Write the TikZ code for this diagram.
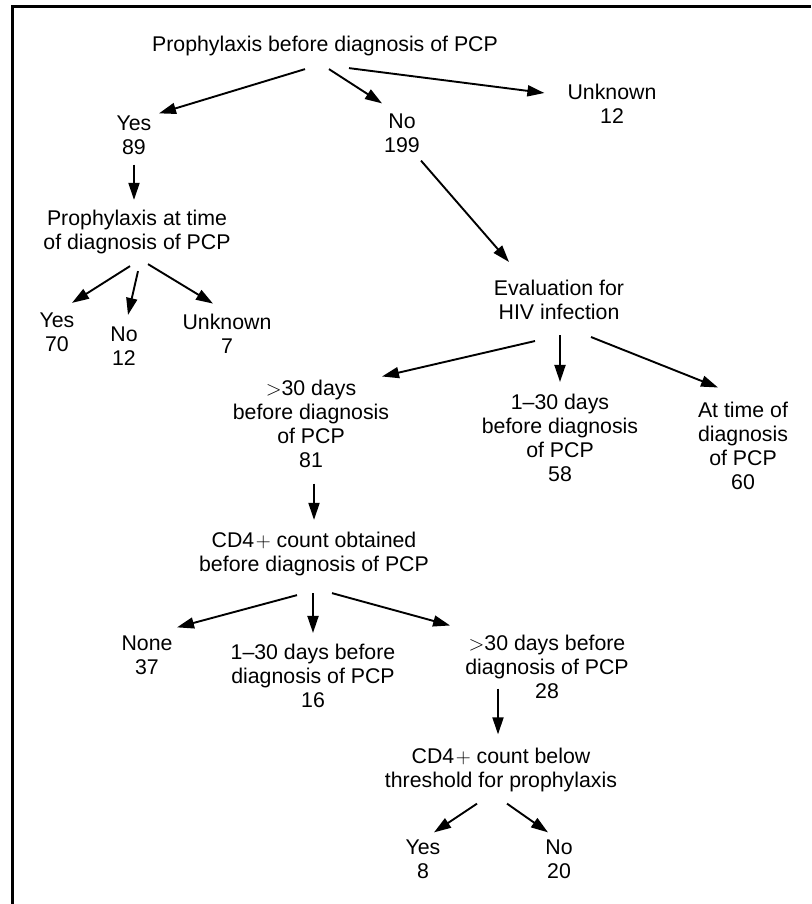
\documentclass[tikz,border=0pt]{standalone}
\usepackage{fontspec}
\setmainfont{Liberation Sans}
\usepackage{tikz}
\usetikzlibrary{arrows.meta, positioning}

\begin{document}
\begin{tikzpicture}[x=1pt, y=1pt, on grid, >={Triangle[length=17pt,width=11pt]}]
    % Define styles
    \tikzset{
        question/.style={align=center, inner sep=0pt, font=\fontsize{21.3}{24}\selectfont},
        answer/.style={question},
        flow/.style={->, line width=1.9pt}
    }
    \useasboundingbox (0,0) rectangle (811,-904);
    \draw[line width=2.5pt] (12.5,-904) -- (12.5,-6.5) -- (811,-6.5);

    % Nodes
    \node[question] (root) at (325,-46) {Prophylaxis before diagnosis of PCP};

    \node[answer, below left=89pt and 191pt of root] (yes1) {Yes\\89};
    \node[answer, below right=87pt and 77pt of root] (no1) {No\\199};
    \node[answer, below right=58pt and 287pt of root] (unk1) {Unknown\\12};

    \node[question, below right=97pt and 3pt of yes1] (ptime) {Prophylaxis at time\\of diagnosis of PCP};
    \node[answer, below left=100.5pt and 80pt of ptime] (yes2) {Yes\\70};
    \node[answer, below left=114.5pt and 13pt of ptime] (no2) {No\\12};
    \node[answer, below right=101.5pt and 90pt of ptime] (unk2) {Unknown\\7};

    \node[question, below right=167pt and 157pt of no1] (eval) {Evaluation for\\HIV infection};
    \node[answer, below left=123.5pt and 248pt of eval] (gt30) {$>$30 days\\before diagnosis\\of PCP\\81};
    \node[answer, below right=138pt and 1pt of eval] (d130) {1--30 days\\before diagnosis\\of PCP\\58};
    \node[answer, below right=145.5pt and 184pt of eval] (attime) {At time of\\diagnosis\\of PCP\\60};

    \node[question, below right=130.5pt and 3pt of gt30] (cdfour) {CD4\kern1.5pt$+$ count obtained\\before diagnosis of PCP};
    \node[answer, below left=101pt and 167pt of cdfour] (none) {None\\37};
    \node[answer, below left=122pt and 1pt of cdfour] (cd130) {1--30 days before\\diagnosis of PCP\\16};
    \node[answer, below right=112.5pt and 233pt of cdfour] (cdgt30) {$>$30 days before\\diagnosis of PCP\\28};

    \node[question, below left=103pt and 46pt of cdgt30] (cdlow) {CD4\kern1.5pt$+$ count below\\threshold for prophylaxis};
    \node[answer, below left=89.5pt and 78pt of cdlow] (yes3) {Yes\\8};
    \node[answer, below right=89.5pt and 58pt of cdlow] (no3) {No\\20};

    % Arrows
    \draw[flow] ([xshift=-20pt,yshift=-13pt]root.south) -- ([xshift=25pt,yshift=2pt]yes1.north);
    \draw[flow] ([xshift=4pt,yshift=-13pt]root.south) -- ([xshift=-20pt,yshift=10pt]no1.north);
    \draw[flow] ([xshift=24pt,yshift=-12pt]root.south) -- ([xshift=-23pt,yshift=11pt]unk1.west);

    \draw[flow] ([yshift=-10pt]yes1.south) -- ([xshift=-3pt,yshift=10pt]ptime.north);
    \draw[flow] ([xshift=-7pt,yshift=-12pt]ptime.south) -- ([xshift=15pt,yshift=10pt]yes2.north);
    \draw[flow] ([xshift=1pt,yshift=-17pt]ptime.south) -- ([xshift=4pt,yshift=12pt]no2.north);
    \draw[flow] ([xshift=11pt,yshift=-10pt]ptime.south) -- ([xshift=-14pt,yshift=10pt]unk2.north);

    \draw[flow] ([xshift=19pt,yshift=-8pt]no1.south) -- ([xshift=-50pt,yshift=18pt]eval.north);
    \draw[flow] ([xshift=-24pt,yshift=-21pt]eval.south) -- ([xshift=71pt,yshift=3pt]gt30.north);
    \draw[flow] ([xshift=1pt,yshift=-15pt]eval.south) -- ([yshift=12pt]d130.north);
    \draw[flow] ([xshift=32pt,yshift=-17pt]eval.south) -- ([xshift=-25pt,yshift=14pt]attime.north);

    \draw[flow] ([xshift=3pt,yshift=-16pt]gt30.south) -- ([yshift=12pt]cdfour.north);
    \draw[flow] ([xshift=-17pt,yshift=-19pt]cdfour.south) -- ([xshift=30pt,yshift=8pt]none.north);
    \draw[flow] ([xshift=-1pt,yshift=-17pt]cdfour.south) -- ([yshift=11pt]cd130.north);
    \draw[flow] ([xshift=18pt,yshift=-17pt]cdfour.south) -- ([xshift=-15pt,yshift=9pt]cdgt30.north west);

    \draw[flow] ([xshift=-49pt,yshift=10pt]cdgt30.south) -- ([xshift=-3pt,yshift=13pt]cdlow.north);
    \draw[flow] ([xshift=-24pt,yshift=-12pt]cdlow.south) -- ([xshift=11pt,yshift=7pt]yes3.north);
    \draw[flow] ([xshift=6pt,yshift=-12pt]cdlow.south) -- ([xshift=-11pt,yshift=7pt]no3.north);
\end{tikzpicture}
\end{document}
